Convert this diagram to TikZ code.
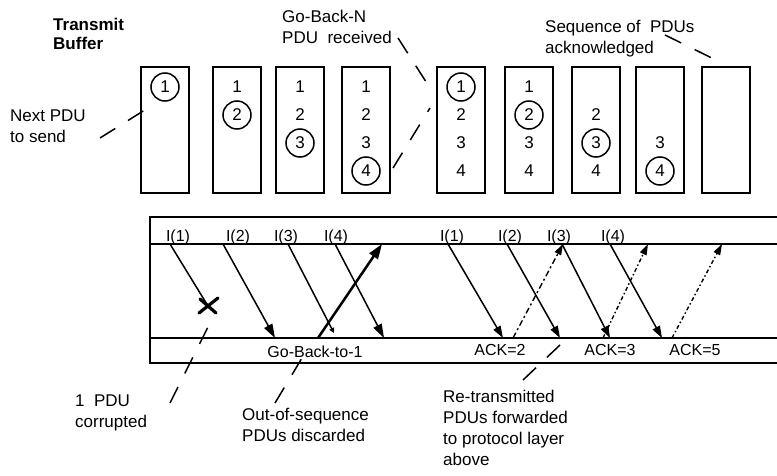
\documentclass[tikz,border=0pt]{standalone}
\usepackage{fontspec}
\setmainfont{Liberation Sans}
\usetikzlibrary{arrows.meta}

\begin{document}
\begin{tikzpicture}[x=1pt, y=-1pt, >={Triangle[length=12pt,width=8pt]},
  bufbox/.style={draw, line width=1.8pt, minimum width=48pt, minimum height=126pt, inner sep=0},
  num/.style={font=\fontsize{17}{17}\selectfont, inner sep=0},
  cur/.style={num, draw, circle, line width=1.5pt, minimum size=28pt},
  note/.style={font=\fontsize{17}{21}\selectfont, align=left, anchor=north west, inner sep=0},
  lbl/.style={font=\fontsize{16}{16}\selectfont, anchor=base, inner sep=0},
  pdu/.style={->, line width=1.5pt},
  ack/.style={-{Triangle[length=11pt,width=7pt]}, line width=1.4pt},
  lead/.style={line width=1.5pt, dash pattern=on 18pt off 15pt}]
  \useasboundingbox (0,0) rectangle (777,476);

  % transmit buffers
  \foreach \b/\x in {1/165,2/237,3/300,4/366,5/461,6/529,7/596,8/660,9/726}
    \node[bufbox] (b\b) at (\x,130) {};
  \foreach \b/\r in {2/1,3/1,3/2,4/1,4/2,4/3,5/2,5/3,5/4,6/1,6/3,6/4,7/2,7/4,8/3}
    \node[num] (n\b-\r) at ([yshift={71-28*\r}]b\b) {\r};
  \foreach \b/\r in {1/1,2/2,3/3,4/4,5/1,6/2,7/3,8/4}
    \node[cur] (c\b) at ([yshift={71-28*\r}]b\b) {\r};

  % time lines
  \draw[line width=1.3pt] (777,217) -- (150,217) -- (150,363) -- (777,363);
  \draw[line width=2.5pt] (150,244) coordinate (tx) -- (777,244);
  \draw[line width=2.5pt] (150,338) coordinate (rx) -- (777,338);

  \foreach \i/\x in {1/170,2/223,3/288,4/335,5/448,6/507,7/562,8/610}
    \coordinate (s\i) at (\x,244);
  \foreach \i/\x in {2/275,4/384,5/503,6/560,7/610,8/662}
    \coordinate (r\i) at (\x,338);
  \coordinate (err) at (208,306);
  \coordinate (r3) at (334,333);

  % PDUs sent
  \draw[line width=1.5pt] (s1) -- (err);
  \draw[line width=3.2pt, line cap=round] (200,299) -- (216,313) (199,313) -- (218,298);
  \draw[pdu, -{Triangle[length=14pt,width=9pt]}] (s2) -- (r2);
  \draw[pdu, -{Triangle[length=5pt,width=5pt]}] (s3) -- (r3);
  \draw[pdu, -{Triangle[length=14pt,width=9pt]}] (s4) -- (r4);
  \foreach \i in {5,...,8}
    \draw[pdu] (s\i) -- (r\i);

  % go-back and acks
  \coordinate (nk) at (318,338);
  \coordinate (nks) at (382,244);
  \draw[line width=2.5pt, -{Triangle[length=15pt,width=10pt]}] (nk) -- (nks);
  \coordinate (a2) at (513,338);
  \coordinate (a2s) at (563,244);
  \coordinate (a3) at (603,338);
  \coordinate (a3s) at (648,244);
  \coordinate (a5) at (672,338);
  \coordinate (a5s) at (722,244);
  \draw[ack, dash pattern=on 6pt off 3pt on 2pt off 3pt] (a2) -- (a2s);
  \draw[ack, dash pattern=on 4pt off 2.5pt on 1.5pt off 2.5pt] (a3) -- (a3s);
  \draw[ack, dash pattern=on 4pt off 2.5pt on 1.5pt off 2.5pt] (a5) -- (a5s);

  % labels on the lines
  \foreach \i/\x in {1/178,2/238,3/286,4/336}
    \node[lbl] (i\i) at (\x,241) {I(\i)};
  \foreach \i/\x in {1/452,2/510,3/559,4/613}
    \node[lbl] (j\i) at (\x,241) {I(\i)};
  \node[lbl] (gb1) at (315,357) {Go-Back-to-1};
  \node[lbl] (k2) at (500,355) {ACK=2};
  \node[lbl] (k3) at (610,355) {ACK=3};
  \node[lbl] (k5) at (695,355) {ACK=5};

  % notes
  \node[note, font=\bfseries\fontsize{17}{19}\selectfont] (buf) at (53,18) {Transmit\\Buffer};
  \node[note] (gbn) at (282,10) {Go-Back-N\\PDU\ \ received};
  \node[note] (seq) at (545,20) {Sequence of\ \ PDUs\\acknowledged};
  \node[note] (next) at (10,110) {Next PDU\\to send};
  \node[note] (corr) at (75,395) {1\ \ PDU\\corrupted};
  \node[note] (disc) at (242,408) {Out-of-sequence\\PDUs discarded};
  \node[note] (fwd) at (443,390) {Re-transmitted\\PDUs forwarded\\to protocol layer\\above};

  % leader lines
  \foreach \xa/\ya/\xb/\yb in {100/138/148/108, 398/38/430/88, 393/168/430/108,
      665/35/722/63, 170/403/209/325, 275/403/302/358, 523/380/560/345}
    \draw[lead] (\xa,\ya) -- (\xb,\yb);
\end{tikzpicture}
\end{document}
